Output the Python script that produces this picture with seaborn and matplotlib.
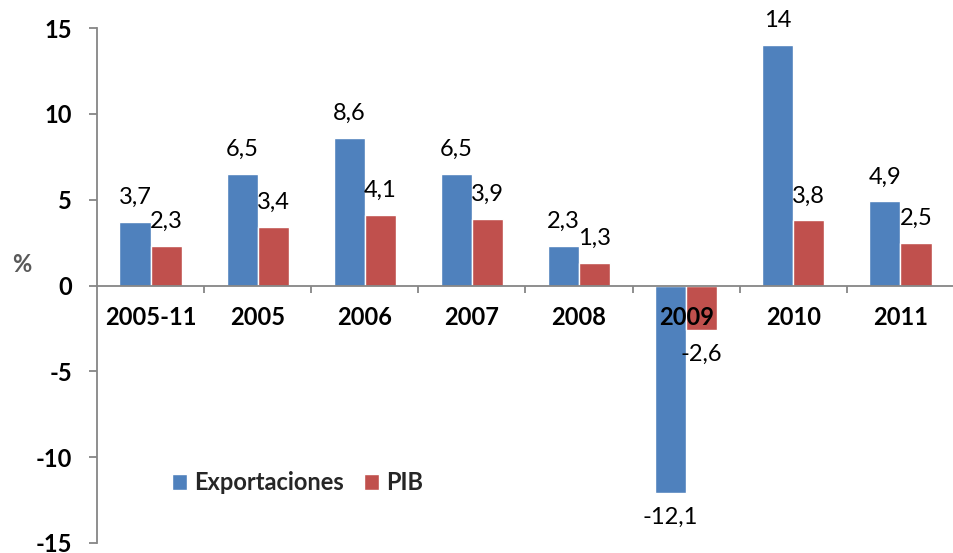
import matplotlib
matplotlib.use("Agg")
import matplotlib.pyplot as plt
import seaborn as sns
import pandas as pd
import numpy as np
from matplotlib.ticker import FixedLocator

categories = ["2005-11", "2005", "2006", "2007", "2008", "2009", "2010", "2011"]
exportaciones = [3.7, 6.5, 8.6, 6.5, 2.3, -12.1, 14.0, 4.9]
pib = [2.3, 3.4, 4.1, 3.9, 1.3, -2.6, 3.8, 2.5]
series_names = ["Exportaciones", "PIB"]
colors = ["#4F81BD", "#C0504D"]
yticks = [-15, -10, -5, 0, 5, 10, 15]

df = pd.DataFrame({
    "cat": categories * 2,
    "serie": [series_names[0]] * len(categories) + [series_names[1]] * len(categories),
    "val": exportaciones + pib,
})

sns.set_theme(style="white")
plt.rcParams['font.family'] = ['Lato', 'DejaVu Sans']

W, H = 954, 553
fig = plt.figure(figsize=(W / 100, H / 100), dpi=100)
ax = fig.add_axes([97 / W, 1 - 543 / H, 1 - 97 / W, (543 - 28) / H])

sns.barplot(data=df, x="cat", y="val", hue="serie", palette=colors,
            width=0.58, saturation=1, ax=ax, order=categories,
            hue_order=series_names, legend=True)

for cont in ax.containers:
    labs = [f"{b.get_height():g}".replace(".", ",") for b in cont]
    ax.bar_label(cont, labels=labs, padding=10, fontsize=17, color="black")

ax.set_axisbelow(False)
ax.set_ylim(-15, 15)
ax.set_xlim(-0.5, len(categories) - 0.5)
ax.set_yticks(yticks)
ax.set_yticklabels([str(t) for t in yticks], fontsize=17, fontweight="bold",
                   color="black")
ax.set_xlabel("")
ax.set_ylabel("")
fig.text(22 / W, 1 - 264 / H, "%", fontsize=17, fontweight="bold", color="#595959",
         ha="center", va="center")

ax.spines["bottom"].set_position(("data", 0))
ax.spines["top"].set_visible(False)
ax.spines["right"].set_visible(False)
for s in ["left", "bottom"]:
    ax.spines[s].set_color("#868686")
    ax.spines[s].set_linewidth(1.3)

ax.set_xticks(range(len(categories)))
ax.set_xticklabels(categories, fontsize=17, fontweight="bold", color="black")
ax.tick_params(axis="x", which="major", length=0, pad=15)
ax.xaxis.set_minor_locator(FixedLocator(np.arange(0.5, len(categories) - 0.5, 1)))
ax.tick_params(axis="x", which="minor", length=5, width=1.3, color="#868686",
               direction="out", bottom=True)
ax.tick_params(axis="y", which="major", length=6, width=1.3, color="#868686",
               direction="out", left=True, pad=12)

leg = ax.legend(loc="center left", bbox_to_anchor=(172 / W, 1 - 483 / H),
                bbox_transform=fig.transFigure, borderpad=0, borderaxespad=0,
                frameon=False, ncol=2, handlelength=0.64, handleheight=0.64,
                handletextpad=0.3, columnspacing=0.85,
                prop={"size": 17, "weight": "bold"})

fig.savefig("out.png", dpi=100)
